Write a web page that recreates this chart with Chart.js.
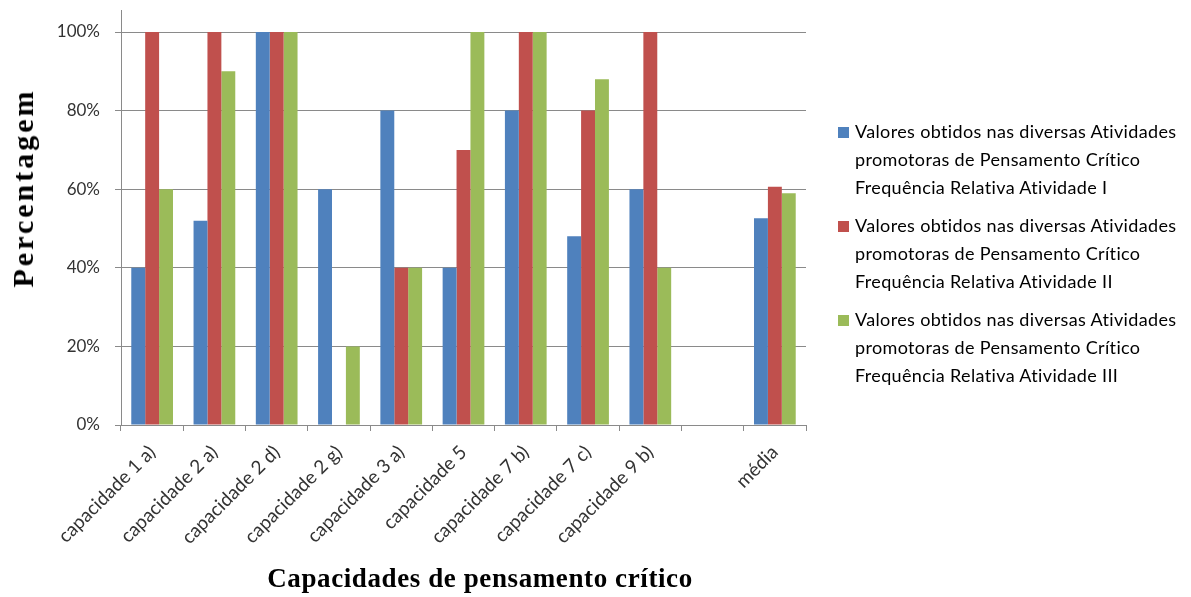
<!DOCTYPE html>
<html>
<head>
<meta charset="utf-8">
<script src="https://cdn.jsdelivr.net/npm/chart.js@4/dist/chart.umd.min.js"></script>
<style>
  html, body { margin: 0; padding: 0; background: #fff; }
  #wrap { position: relative; width: 1191px; height: 597px; overflow: hidden; }
  #c { position: absolute; left: 0; top: 0; }
  #legend { position: absolute; left: 838px; top: 117px; width: 353px; font-family: Lato, "Liberation Sans", sans-serif; font-size: 18px; letter-spacing: 0.35px; color: #000; }
  .item { position: relative; padding-left: 17px; line-height: 28px; margin-bottom: 10px; white-space: nowrap; }
  .sw { position: absolute; left: 0; top: 10px; width: 11px; height: 11px; }
  .ttl { position: absolute; font-family: "Liberation Serif", "DejaVu Serif", serif; font-weight: bold; color: #000; white-space: nowrap; }
  #ytitle { left: 23px; top: 188px; font-size: 30px; letter-spacing: 3px; transform: translate(-50%, -50%) rotate(-90deg); }
  #xtitle { left: 480px; top: 578px; font-size: 27px; letter-spacing: 0.6px; transform: translate(-50%, -50%); }
</style>
</head>
<body>
<div id="wrap">
  <canvas id="c" width="1191" height="597"></canvas>
  <div id="legend"></div>
  <div id="ytitle" class="ttl"></div>
  <div id="xtitle" class="ttl"></div>
</div>
<script>
const categories = ["capacidade 1 a)", "capacidade 2 a)", "capacidade 2 d)", "capacidade 2 g)", "capacidade 3 a)", "capacidade 5", "capacidade 7 b)", "capacidade 7 c)", "capacidade 9 b)", "", "média"];
const atividadeI   = [40, 52, 100, 60, 80, 40, 80, 48, 60, null, 52.6];
const atividadeII  = [100, 100, 100, 0, 40, 70, 100, 80, 100, null, 60.6];
const atividadeIII = [60, 90, 100, 20, 40, 100, 100, 88, 40, null, 59];
const yTicks = [0, 20, 40, 60, 80, 100];
const yAxisTitle = "Percentagem";
const xAxisTitle = "Capacidades de pensamento crítico";
const seriesLabels = [
  ["Valores obtidos nas diversas Atividades", "promotoras de Pensamento Crítico", "Frequência Relativa Atividade I"],
  ["Valores obtidos nas diversas Atividades", "promotoras de Pensamento Crítico", "Frequência Relativa Atividade II"],
  ["Valores obtidos nas diversas Atividades", "promotoras de Pensamento Crítico", "Frequência Relativa Atividade III"]
];
const colors = ["#4F81BD", "#C0504D", "#9BBB59"];
const gridColor = "#8a8a8a";

const chart = new Chart(document.getElementById('c'), {
  type: 'bar',
  data: {
    labels: categories,
    datasets: [atividadeI, atividadeII, atividadeIII].map((d, i) => ({
      label: seriesLabels[i].join(' '),
      data: d,
      backgroundColor: colors[i],
      borderWidth: 0,
      barPercentage: 1.0,
      categoryPercentage: 0.67
    }))
  },
  options: {
    responsive: false,
    animation: false,
    layout: { padding: { left: 0, right: 385, top: 10, bottom: 0 } },
    plugins: { legend: { display: false }, tooltip: { enabled: false } },
    scales: {
      y: {
        min: 0, max: 105.6,
        afterBuildTicks: s => { s.ticks = yTicks.map(v => ({ value: v })); },
        afterFit: s => { s.width = 121; s.paddingTop = 0; s.paddingBottom = 0; },
        grid: { color: gridColor, lineWidth: 1, tickLength: 6, drawTicks: true },
        border: { color: gridColor, width: 1 },
        ticks: {
          callback: v => v + '%',
          color: '#333',
          font: { family: 'Lato, "Liberation Sans", sans-serif', size: 17 },
          padding: 15
        }
      },
      x: {
        afterFit: s => { s.height = 172; s.paddingLeft = 0; s.paddingRight = 0; },
        grid: { offset: true, drawOnChartArea: false, drawTicks: true, tickLength: 6, color: gridColor },
        border: { color: gridColor, width: 1 },
        ticks: {
          minRotation: 45, maxRotation: 45, autoSkip: false,
          color: '#333',
          font: { family: 'Lato, "Liberation Sans", sans-serif', size: 19 },
          padding: 10
        }
      }
    }
  }
});

document.getElementById('ytitle').textContent = yAxisTitle;
document.getElementById('xtitle').textContent = xAxisTitle;

const lg = document.getElementById('legend');
seriesLabels.forEach((lines, i) => {
  const it = document.createElement('div');
  it.className = 'item';
  const sw = document.createElement('span');
  sw.className = 'sw';
  sw.style.background = colors[i];
  it.appendChild(sw);
  lines.forEach((t, j) => {
    if (j) it.appendChild(document.createElement('br'));
    it.appendChild(document.createTextNode(t));
  });
  lg.appendChild(it);
});
</script>
</body>
</html>
